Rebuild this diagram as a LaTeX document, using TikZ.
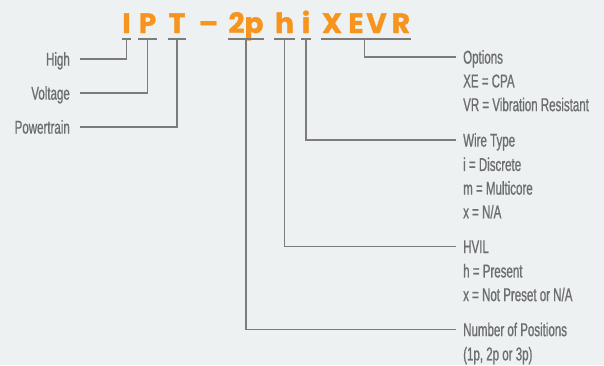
\documentclass[tikz,border=0pt]{standalone}
\usepackage{fontspec}
\setmainfont{Liberation Sans}[FakeStretch=0.62, FakeBold=0.8]
\newfontfamily\codefont{Poppins Bold}[FakeBold=1.2]
\usetikzlibrary{positioning}

\definecolor{codeorange}{HTML}{F7941D}
\definecolor{labelgray}{HTML}{6D6E71}
\definecolor{leadgray}{HTML}{7C7C7C}
\definecolor{paper}{HTML}{EDF1F2}

\begin{document}
\begin{tikzpicture}[x=1pt, y=-1pt,
    code/.style = {text=codeorange, font=\codefont\fontsize{28}{28}\selectfont,
                   inner xsep=0.5pt, inner ysep=0pt, anchor=base},
    lbl/.style  = {text=labelgray, font=\fontsize{18.6}{23.7}\selectfont,
                   text height=13.3pt, text depth=0pt, inner ysep=0pt},
    left lbl/.style  = {lbl, anchor=east, inner xsep=10pt},
    right lbl/.style = {lbl, anchor=west, inner xsep=7pt},
    desc/.style = {text=labelgray, font=\fontsize{18.6}{23.7}\selectfont,
                   align=left, inner xsep=7pt, inner ysep=0pt, anchor=north west},
    lead/.style = {draw=leadgray, line width=1.2pt}]
    \fill[paper] (0,0) rectangle (604,365);

    \node[code] (I)  at (126.5,33) {I};
    \node[code] (P)  at (147.5,33) {P};
    \node[code] (T)  at (177,33)   {T};
    \node[code] (dash) at (208.5,33) {–};
    \node[code] (2p) at (246,33)   {2p};
    \node[code] (h)  at (284.5,33) {h};
    \node[code] (i)  at (306,33)   {i};
    \node[code] (X)  at (332,33)   {X};
    \node[code] (E)  at (356,33)   {E};
    \node[code] (V)  at (376.5,33) {V};
    \node[code] (R)  at (401,33)   {R};

    \node[left lbl] (high)  at (80,59)  {High};
    \node[left lbl] (volt)  at (80,93)  {Voltage};
    \node[left lbl] (power) at (80,127) {Powertrain};

    \node[right lbl] (opt)  at (456,57)    {Options};
    \node[desc, below=10.4pt of opt.south west, anchor=north west] (opt-d)
        {XE = CPA\\VR = Vibration Resistant};
    \node[right lbl] (wire) at (456,140)   {Wire Type};
    \node[desc, below=10.4pt of wire.south west, anchor=north west] (wire-d)
        {i = Discrete\\m = Multicore\\x = N/A};
    \node[right lbl] (hvil) at (456,246.5) {HVIL};
    \node[desc, below=10.4pt of hvil.south west, anchor=north west] (hvil-d)
        {h = Present\\x = Not Preset or N/A};
    \node[right lbl] (npos) at (456,329.5) {Number of Positions};
    \node[desc, below=10.4pt of npos.south west, anchor=north west] (npos-d)
        {(1p, 2p or 3p)};

    \foreach \g in {I, P, T, 2p, h, i}
        \draw[lead] ([yshift=-6pt]\g.base west) -- ([yshift=-6pt]\g.base east);
    \draw[lead] ([yshift=-6pt]X.base west) -- ([yshift=-6pt]R.base east);

    \draw[lead] ([yshift=-6pt]I.base)  |- (high.east);
    \draw[lead] ([yshift=-6pt]P.base)  |- (volt.east);
    \draw[lead] ([yshift=-6pt]T.base)  |- (power.east);
    \draw[lead] ([yshift=-6pt]2p.base) |- (npos.west);
    \draw[lead] ([yshift=-6pt]h.base)  |- (hvil.west);
    \draw[lead] ([yshift=-6pt]i.base)  |- (wire.west);
    \draw[lead] ([yshift=-6pt]E.base east) |- (opt.west);
\end{tikzpicture}
\end{document}
